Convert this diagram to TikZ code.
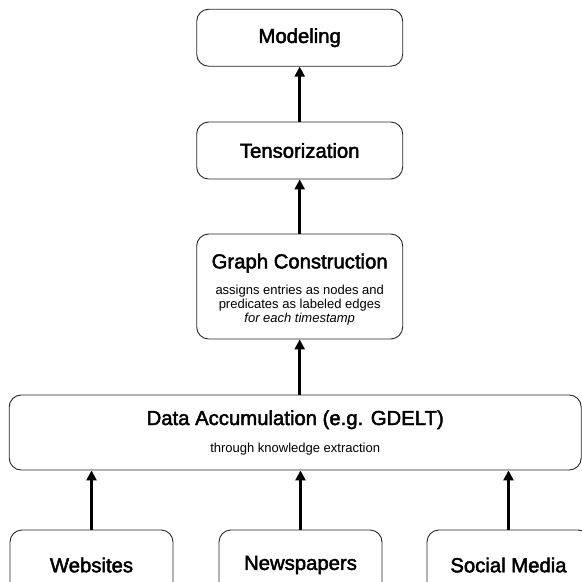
\documentclass[tikz,border=0pt]{standalone}
\usepackage{fontspec}
\setmainfont{Liberation Sans}
\newfontfamily\headfont[FakeBold=2.2]{Liberation Sans}
\usetikzlibrary{arrows.meta}
\newcommand{\boxtitle}{\headfont\fontsize{20.3}{24}\selectfont}
\newcommand{\boxnote}{\fontsize{13}{14}\selectfont}

\begin{document}
\begin{tikzpicture}[x=1pt,y=-1pt,
        box/.style={draw=black!85,line width=0.9pt,rounded corners=12pt,
            inner sep=0pt,align=center,font=\boxtitle},
        notebox/.style={box,font=\boxnote},
        up/.style={line width=2.6pt,-{Triangle[length=10pt,width=10pt]}}]
        \clip (0,0) rectangle (582,582);

        % pipeline, top to bottom
        \node[box,minimum width=206pt,minimum height=57pt] (model) at (299.7,37.7) {Modeling};
        \node[box,minimum width=206pt,minimum height=57pt] (tensor) at (299.7,150.5) {Tensorization};
        \node[notebox,minimum width=206pt,minimum height=105pt] (graph) at (299.7,286.5)
            {\rule{0pt}{21pt}{\boxtitle Graph Construction}\\[12.5pt]
             assigns entries as nodes and\\
             predicates as labeled edges\\
             \itshape for each timestamp};
        \node[notebox,minimum width=572pt,minimum height=75pt] (accum) at (295.2,432.5)
            {{\boxtitle Data Accumulation (e.g. GDELT)}\\[13pt]
             through knowledge extraction};

        % sources
        \node[box,minimum width=163pt,minimum height=70pt] (web) at (91.5,565) {Websites};
        \node[box,minimum width=163pt,minimum height=70pt] (news) at (300.5,565) {Newspapers};
        \node[box,minimum width=163pt,minimum height=70pt] (social) at (508.5,565) {Social Media};

        \draw[up] (tensor) -- (model);
        \draw[up] (graph) -- (tensor);
        \draw[up] (graph.south |- accum.north) -- (graph.south);
        \draw[up] (web) -- (web |- accum.south);
        \draw[up] (news) -- (news |- accum.south);
        \draw[up] (social) -- (social |- accum.south);

    \end{tikzpicture}
\end{document}
